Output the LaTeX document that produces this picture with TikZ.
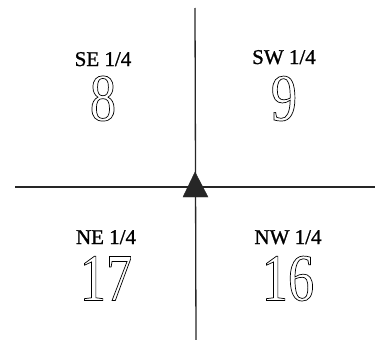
\documentclass[tikz,border=0pt]{standalone}
\usepackage{fontspec}
\setmainfont{Liberation Serif}
\newfontfamily\numfont[FakeStretch=0.78]{Liberation Serif}
\newfontfamily\labfont[FakeBold=1.2]{Liberation Serif}
\newcommand{\hollow}[1]{\special{pdf:code q 1 Tr 0.7 w}#1\special{pdf:code Q}}
\usetikzlibrary{positioning}

\begin{document}
\begin{tikzpicture}[
    x=1pt, y=-1pt,
    quarter/.style={inner sep=0pt, text height=14pt, text depth=0pt,
        font=\labfont\fontsize{21}{21}\selectfont},
    section/.style={inner sep=0pt, text height=45pt, text depth=0pt,
        font=\numfont\fontsize{67}{67}\selectfont},
    axis/.style={line width=1.3pt, black!85},
    corner/.style={fill=black!85, draw=black!85}
]
    \useasboundingbox (0,0) rectangle (378,340);

    % section corner lines
    \coordinate (top) at (195,8);
    \coordinate (bottom) at (196,340);
    \coordinate (left) at (15,187);
    \coordinate (right) at (375,187);
    \draw[axis] (top) -- (bottom);
    \draw[axis] (left) -- (right);

    % corner marker
    \coordinate (apex) at (195,172);
    \coordinate (baseL) at (183,197);
    \coordinate (baseR) at (208,197);
    \fill[corner] (apex) -- (baseL) -- (baseR) -- cycle;

    % quarters
    \node[quarter] (se) at (103,59) {SE 1/4};
    \node[section, below=9pt of se] (s8) {\hollow{8}};
    \node[quarter] (sw) at (284,57) {SW 1/4};
    \node[section, below=11pt of sw] (s9) {\hollow{9}};
    \node[quarter] (ne) at (106,237) {NE 1/4};
    \node[section, below=11pt of ne] (s17) {\hollow{17}};
    \node[quarter] (nw) at (288,237) {NW 1/4};
    \node[section, below=11pt of nw] (s16) {\hollow{16}};

\end{tikzpicture}
\end{document}
